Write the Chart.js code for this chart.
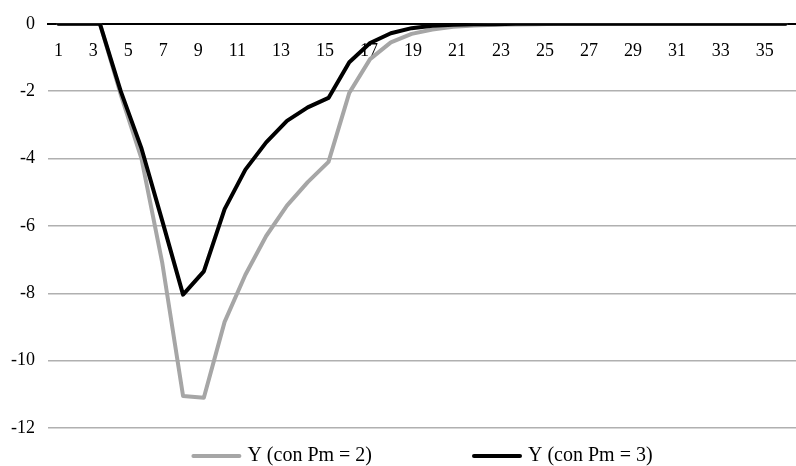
<!DOCTYPE html>
<html>
<head>
<meta charset="utf-8">
<script src="https://cdn.jsdelivr.net/npm/chart.js@4.4.1/dist/chart.umd.min.js"></script>
<style>
  html, body { margin: 0; padding: 0; background: #ffffff; }
  #wrap { width: 796px; height: 466px; position: relative; }
</style>
</head>
<body>
<div id="wrap"><canvas id="chart" width="796" height="466"></canvas></div>
<script>
// Periods 1..36
const periods = ['1','2','3','4','5','6','7','8','9','10','11','12','13','14','15','16','17','18',
                 '19','20','21','22','23','24','25','26','27','28','29','30','31','32','33','34','35','36'];

// Labels printed under the zero line (every other period)
const periodTickLabels = ['1','3','5','7','9','11','13','15','17','19','21','23','25','27','29','31','33','35'];

// Y response with Pm = 2
const yPm2 = [0, 0, 0, -2.1, -4.0, -7.1, -11.05, -11.1, -8.85, -7.45, -6.3, -5.4, -4.7, -4.1,
              -2.05, -1.05, -0.55, -0.3, -0.17, -0.09, -0.05, -0.03, -0.02, -0.01,
              0, 0, 0, 0, 0, 0, 0, 0, 0, 0, 0, 0];

// Y response with Pm = 3
const yPm3 = [0, 0, 0, -2.0, -3.7, -5.85, -8.04, -7.35, -5.5, -4.33, -3.52, -2.88, -2.48, -2.2,
              -1.14, -0.57, -0.28, -0.13, -0.06, -0.03, -0.015, -0.01, 0, 0,
              0, 0, 0, 0, 0, 0, 0, 0, 0, 0, 0, 0];

const seriesNames = ['Y (con Pm = 2)', 'Y (con Pm = 3)'];
const seriesColors = ['#a6a6a6', '#000000'];

const FONT = '"Liberation Serif", "Times New Roman", serif';

// Period labels: a row of evenly gapped text running from the first
// to the last labelled period, just under the zero line.
const periodLabelRow = {
  id: 'periodLabelRow',
  beforeDatasetsDraw(chart) {
    const xs = chart.scales.x;
    const ys = chart.scales.y;
    const ctx = chart.ctx;
    ctx.save();
    ctx.font = '18px ' + FONT;
    ctx.fillStyle = '#000000';
    ctx.textAlign = 'center';
    ctx.textBaseline = 'middle';
    const n = periodTickLabels.length;
    const widths = periodTickLabels.map(l => ctx.measureText(l).width);
    const xFirst = xs.getPixelForValue(periods.indexOf(periodTickLabels[0]));
    const xLast = xs.getPixelForValue(periods.indexOf(periodTickLabels[n - 1]));
    const inner = widths.reduce((a, b) => a + b, 0) - (widths[0] + widths[n - 1]) / 2;
    const gap = (xLast - xFirst - inner) / (n - 1);
    const y = ys.getPixelForValue(0) + 27;
    let x = xFirst;
    periodTickLabels.forEach((lab, i) => {
      ctx.fillText(lab, x, y);
      if (i < n - 1) x += widths[i] / 2 + gap + widths[i + 1] / 2;
    });
    ctx.restore();
  }
};

// Legend drawn below the plot, centred on the chart area
const bottomLegend = {
  id: 'bottomLegend',
  afterDraw(chart) {
    const ctx = chart.ctx;
    const area = chart.chartArea;
    const sample = 50, gapText = 6, gapItems = 100;
    ctx.save();
    ctx.font = '20px ' + FONT;
    const items = chart.data.datasets.map(ds => ({
      label: ds.label, color: ds.borderColor,
      w: sample + gapText + ctx.measureText(ds.label).width
    }));
    const total = items.reduce((s, it) => s + it.w, 0) + gapItems * (items.length - 1);
    let x = (area.left + area.right) / 2 - total / 2;
    const y = 456;
    items.forEach(it => {
      ctx.strokeStyle = it.color;
      ctx.lineWidth = 4;
      ctx.lineCap = 'round';
      ctx.beginPath();
      ctx.moveTo(x + 2, y);
      ctx.lineTo(x + sample - 2, y);
      ctx.stroke();
      ctx.fillStyle = '#000000';
      ctx.textBaseline = 'middle';
      ctx.textAlign = 'left';
      ctx.fillText(it.label, x + sample + gapText, y);
      x += it.w + gapItems;
    });
    ctx.restore();
  }
};

new Chart(document.getElementById('chart'), {
  type: 'line',
  data: {
    labels: periods,
    datasets: [
      {
        label: seriesNames[0],
        data: yPm2,
        borderColor: seriesColors[0],
        backgroundColor: seriesColors[0],
        borderWidth: 4,
        pointRadius: 0,
        tension: 0,
        borderCapStyle: 'round',
        borderJoinStyle: 'round',
        order: 2
      },
      {
        label: seriesNames[1],
        data: yPm3,
        borderColor: seriesColors[1],
        backgroundColor: seriesColors[1],
        borderWidth: 4,
        pointRadius: 0,
        tension: 0,
        borderCapStyle: 'round',
        borderJoinStyle: 'round',
        order: 1
      }
    ]
  },
  options: {
    responsive: false,
    animation: false,
    devicePixelRatio: 1,
    layout: { padding: { top: 19, right: 0, bottom: 38, left: 0 } },
    plugins: {
      legend: { display: false },
      tooltip: { enabled: false }
    },
    scales: {
      x: {
        type: 'category',
        position: { y: 0 },
        offset: true,
        grid: { display: false, drawTicks: false },
        border: { display: true, color: '#000000', width: 2 },
        ticks: { display: false }
      },
      y: {
        min: -12,
        max: 0,
        afterFit(scale) { scale.width = 48; },
        grid: { color: '#b0b0b0', lineWidth: 1.5, drawTicks: false },
        border: { display: false },
        ticks: {
          stepSize: 2,
          padding: 13,
          color: '#000000',
          font: { family: FONT, size: 18 }
        }
      }
    }
  },
  plugins: [periodLabelRow, bottomLegend]
});
</script>
</body>
</html>
